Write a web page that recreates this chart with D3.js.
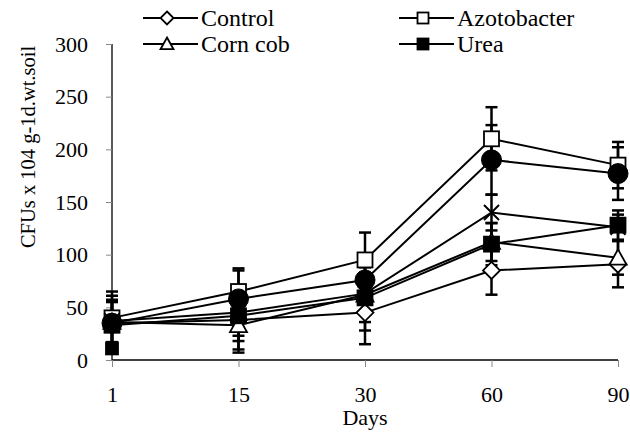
<!DOCTYPE html>
<html>
<head>
<meta charset="utf-8">
<script src="https://cdn.jsdelivr.net/npm/d3@7"></script>
<style>
  body { margin: 0; background: #fff; }
</style>
</head>
<body>
<script>
// categories
const days = ["1", "15", "30", "60", "90"];
const yTicks = [0, 50, 100, 150, 200, 250, 300];

// series values and their error bars
const control = [35, 38, 45, 85, 91];
const controlErr = [22, 28, 30, 23, 22];
const azotobacter = [40, 65, 95, 210, 185];
const azotobacterErr = [25, 22, 26, 30, 22];
const cornCob = [36, 33, 62, 112, 97];
const cornCobErr = [20, 26, 26, 18, 16];
const urea = [33, 42, 59, 110, 128];
const ureaErr = [22, 24, 31, 20, 14];
const circleSeries = [35, 58, 76, 190, 177];
const circleErr = [26, 27, 18, 33, 25];
const crossSeries = [37, 45, 63, 140, 126];
const crossErr = [20, 22, 20, 17, 12];
// stray urea marker at day 1
const ureaExtra = [11];

const FONT = "'Liberation Serif', 'Times New Roman', Times, serif";

function main(){
    const width = 630;
    const height = 435;

    const svg = d3.select("body").append("svg")
        .attr("width", width)
        .attr("height", height)
        .attr("font-family", FONT);

    const xScale = d3.scalePoint().domain(days).range([112, 618]);
    const yScale = d3.scaleLinear().domain([0, 300]).range([360, 44]);

    const series = [
        {name: "Control", values: control, err: controlErr, shape: "diamond", fill: "#fff"},
        {name: "Azotobacter", values: azotobacter, err: azotobacterErr, shape: "square", fill: "#fff"},
        {name: "Corn cob", values: cornCob, err: cornCobErr, shape: "triangle", fill: "#fff"},
        {name: "Urea", values: urea, err: ureaErr, shape: "square", fill: "#000"},
        {name: "circle", values: circleSeries, err: circleErr, shape: "circle", fill: "#000"},
        {name: "cross", values: crossSeries, err: crossErr, shape: "cross", fill: "none"}
    ];

    // marker drawing
    function marker(g, shape, fill, x, y, s) {
        if (shape === "square") {
            g.append("rect").attr("x", x - s/2).attr("y", y - s/2)
                .attr("width", s).attr("height", s)
                .attr("fill", fill).attr("stroke", "#000").attr("stroke-width", 1.8);
        } else if (shape === "diamond") {
            const r = s/2 + 1;
            g.append("path").attr("d", `M${x},${y-r}L${x+r},${y}L${x},${y+r}L${x-r},${y}Z`)
                .attr("fill", fill).attr("stroke", "#000").attr("stroke-width", 1.8);
        } else if (shape === "triangle") {
            const r = s/2 + 1;
            g.append("path").attr("d", `M${x},${y-r}L${x+r},${y+r*0.8}L${x-r},${y+r*0.8}Z`)
                .attr("fill", fill).attr("stroke", "#000").attr("stroke-width", 1.8);
        } else if (shape === "circle") {
            g.append("circle").attr("cx", x).attr("cy", y).attr("r", s/2 + 2.5)
                .attr("fill", fill).attr("stroke", "#000").attr("stroke-width", 1);
        } else if (shape === "cross") {
            const r = s/2;
            g.append("path").attr("d", `M${x-r},${y-r}L${x+r},${y+r}M${x-r},${y+r}L${x+r},${y-r}`)
                .attr("stroke", "#000").attr("stroke-width", 2);
        }
    }

    // axes
    const xAxis = svg.append("g")
        .attr("transform", "translate(0,360)")
        .call(d3.axisBottom(xScale).tickSize(7).tickPadding(19));
    xAxis.attr("font-family", FONT).attr("font-size", 22);
    xAxis.select(".domain").attr("stroke", "#000").attr("stroke-width", 1.3)
        .attr("d", "M112,0H618");
    xAxis.selectAll(".tick line").attr("stroke", "#888");

    const yAxis = svg.append("g")
        .attr("transform", "translate(112,0)")
        .call(d3.axisLeft(yScale).tickValues(yTicks).tickSize(6).tickPadding(18));
    yAxis.attr("font-family", FONT).attr("font-size", 22);
    yAxis.select(".domain").attr("stroke", "#000").attr("stroke-width", 1.3)
        .attr("d", "M0,44V360");
    yAxis.selectAll(".tick line").attr("stroke", "#888");

    // axis titles
    svg.append("text")
        .attr("x", 365).attr("y", 425)
        .attr("text-anchor", "middle")
        .attr("font-size", 22)
        .text("Days");

    svg.append("text")
        .attr("transform", "translate(35,147) rotate(-90)")
        .attr("text-anchor", "middle")
        .attr("font-size", 20.5)
        .text("CFUs x 104 g-1d.wt.soil");

    const plot = svg.append("g");

    // error bars
    series.forEach(s => {
        s.values.forEach((v, i) => {
            const x = xScale(days[i]);
            const lo = Math.max(0, v - s.err[i]);
            const hi = v + s.err[i];
            plot.append("line").attr("x1", x).attr("x2", x)
                .attr("y1", yScale(lo)).attr("y2", yScale(hi))
                .attr("stroke", "#000").attr("stroke-width", 2.5);
            [lo, hi].forEach(e => {
                plot.append("line").attr("x1", x - 6).attr("x2", x + 6)
                    .attr("y1", yScale(e)).attr("y2", yScale(e))
                    .attr("stroke", "#000").attr("stroke-width", 2.5);
            });
        });
    });

    // lines
    const line = d3.line()
        .x((d, i) => xScale(days[i]))
        .y(d => yScale(d));
    series.forEach(s => {
        plot.append("path")
            .attr("d", line(s.values))
            .attr("fill", "none")
            .attr("stroke", "#000")
            .attr("stroke-width", 2);
    });

    // markers
    series.forEach(s => {
        s.values.forEach((v, i) => {
            marker(plot, s.shape, s.fill, xScale(days[i]), yScale(v), 15);
        });
    });
    ureaExtra.forEach(v => marker(plot, "square", "#000", xScale(days[0]), yScale(v), 12));

    // legend
    const legendItems = [
        {s: series[0], x: 143, y: 18},
        {s: series[1], x: 399, y: 18},
        {s: series[2], x: 143, y: 44},
        {s: series[3], x: 399, y: 44}
    ];
    const legend = svg.append("g");
    legendItems.forEach(d => {
        legend.append("line").attr("x1", d.x).attr("x2", d.x + 55)
            .attr("y1", d.y).attr("y2", d.y)
            .attr("stroke", "#000").attr("stroke-width", 2);
        marker(legend, d.s.shape, d.s.fill, d.x + 24, d.y, 11);
        legend.append("text")
            .attr("x", d.x + 58).attr("y", d.y + 8)
            .attr("font-size", 24)
            .text(d.s.name);
    });
}
main();
</script>
</body>
</html>
